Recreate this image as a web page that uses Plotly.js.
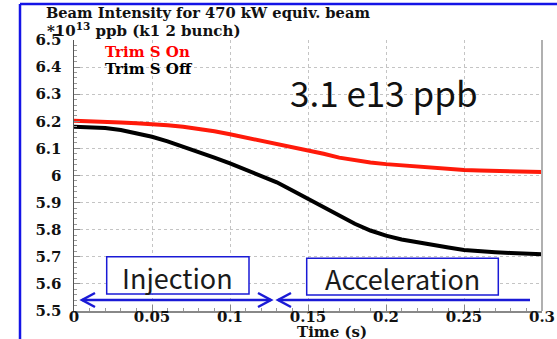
<!DOCTYPE html>
<html>
<head>
<meta charset="utf-8">
<script src="https://cdn.plot.ly/plotly-3.0.1.min.js"></script>
<style>html,body{margin:0;padding:0;background:#fff;}#chart{width:557px;height:339px;}</style>
</head>
<body>
<div id="chart"></div>
<script>
// ---- data ----
const timeS = [0,0.01,0.02,0.03,0.04,0.05,0.06,0.07,0.08,0.09,0.10,0.11,0.12,0.13,0.14,0.15,0.16,0.17,0.18,0.19,0.20,0.21,0.22,0.23,0.24,0.25,0.26,0.27,0.28,0.29,0.30];
const trimOn  = [6.202,6.201,6.199,6.196,6.193,6.190,6.185,6.180,6.172,6.163,6.152,6.140,6.130,6.118,6.107,6.094,6.080,6.066,6.056,6.048,6.042,6.037,6.033,6.029,6.024,6.020,6.018,6.016,6.015,6.014,6.013];
const trimOff = [6.180,6.179,6.175,6.168,6.157,6.143,6.126,6.107,6.087,6.066,6.045,6.022,5.999,5.975,5.945,5.915,5.885,5.853,5.822,5.797,5.778,5.764,5.753,5.744,5.734,5.725,5.720,5.717,5.714,5.711,5.709];
const seriesNames = ["Trim S On","Trim S Off"];
const xTicks = [0,0.05,0.1,0.15,0.2,0.25,0.3];
const yTicks = [5.5,5.6,5.7,5.8,5.9,6,6.1,6.2,6.3,6.4,6.5];

// ---- layout helpers (pixel -> paper) ----
const L=74, R=542, T=40, B=311;
const X = p => (p-L)/(R-L);
const Y = p => (B-p)/(B-T);
const serif = "DejaVu Serif";
const blue = "#1a1ad6";

const traces = [
  {x: timeS, y: trimOn, name: seriesNames[0], mode: "lines", line: {color: "#ff1a0a", width: 4}},
  {x: timeS, y: trimOff, name: seriesNames[1], mode: "lines", line: {color: "#000000", width: 4}}
];

function chevron(xTip, dir){
  const xb = xTip + dir*13;
  return `M ${X(xb)},${Y(293)} L ${X(xTip)},${Y(300)} L ${X(xb)},${Y(307)}`;
}

const layout = {
  width: 557, height: 339,
  margin: {l: L, r: 557-R, t: T, b: 339-B, pad: 0},
  paper_bgcolor: "#fff", plot_bgcolor: "#fff",
  showlegend: false,
  font: {family: serif, color: "#111"},
  xaxis: {
    range: [0, 0.3], tickvals: xTicks, ticktext: xTicks.map(String),
    showgrid: true, gridcolor: "#c4c4c4", griddash: "dot", gridwidth: 1,
    zeroline: false, showline: true, linecolor: "#888", linewidth: 1.5,
    ticks: "inside", ticklen: 6, tickcolor: "#888",
    minor: {dtick: 0.01, ticks: "inside", ticklen: 3, tickcolor: "#999", showgrid: false},
    tickfont: {family: serif, size: 15, color: "#111", weight: "bold"},
    ticklabelstandoff: -9
  },
  yaxis: {
    range: [5.5, 6.5], tickvals: yTicks, ticktext: yTicks.map(String),
    showgrid: true, gridcolor: "#c4c4c4", griddash: "dot", gridwidth: 1,
    zeroline: false, showline: true, linecolor: "#555", linewidth: 1.5,
    ticks: "inside", ticklen: 6, tickcolor: "#888",
    minor: {dtick: 0.02, ticks: "inside", ticklen: 3, tickcolor: "#999", showgrid: false},
    tickfont: {family: serif, size: 15, color: "#111", weight: "bold"},
    ticklabelstandoff: 8
  },
  shapes: [
    {type: "line", xref: "paper", yref: "paper", x0: 1, x1: 1, y0: 0, y1: 1, line: {color: "#b0b0b0", width: 2}},
    {type: "line", xref: "paper", yref: "paper", x0: X(20), x1: X(20), y0: Y(4), y1: Y(345), line: {color: "#1414e6", width: 2.5}},
    {type: "line", xref: "paper", yref: "paper", x0: X(20), x1: X(560), y0: Y(4), y1: Y(4), line: {color: "#1414e6", width: 2.5}},
    {type: "rect", xref: "paper", yref: "paper", x0: X(106.7), x1: X(249), y0: Y(294), y1: Y(256.7), line: {color: blue, width: 1.5}, fillcolor: "#fff", layer: "above"},
    {type: "rect", xref: "paper", yref: "paper", x0: X(306.7), x1: X(498.3), y0: Y(295), y1: Y(258.3), line: {color: blue, width: 1.5}, fillcolor: "#fff", layer: "above"},
    {type: "line", xref: "paper", yref: "paper", x0: X(82), x1: X(271), y0: Y(300), y1: Y(300), line: {color: blue, width: 2.5}},
    {type: "path", xref: "paper", yref: "paper", path: chevron(82, 1), line: {color: blue, width: 2.5}},
    {type: "path", xref: "paper", yref: "paper", path: chevron(271, -1), line: {color: blue, width: 2.5}},
    {type: "line", xref: "paper", yref: "paper", x0: X(278), x1: X(530), y0: Y(300), y1: Y(300), line: {color: blue, width: 2.5}},
    {type: "path", xref: "paper", yref: "paper", path: chevron(278, 1), line: {color: blue, width: 2.5}}
  ],
  annotations: [
    {xref: "paper", yref: "paper", x: X(208), y: Y(13), xanchor: "center", yanchor: "middle", showarrow: false,
     text: "Beam Intensity for 470 kW equiv. beam", font: {family: serif, size: 15, color: "#111", weight: "bold"}},
    {xref: "paper", yref: "paper", x: X(45), y: Y(30), xanchor: "left", yanchor: "middle", showarrow: false,
     text: "*10<sup>13</sup> ppb (k1 2 bunch)", font: {family: serif, size: 15, color: "#111", weight: "bold"}},
    {xref: "paper", yref: "paper", x: X(103), y: Y(52), xanchor: "left", yanchor: "middle", showarrow: false,
     text: seriesNames[0], font: {family: serif, size: 15, color: "#ff0000", weight: "bold"}},
    {xref: "paper", yref: "paper", x: X(103), y: Y(69), xanchor: "left", yanchor: "middle", showarrow: false,
     text: seriesNames[1], font: {family: serif, size: 15, color: "#000", weight: "bold"}},
    {xref: "paper", yref: "paper", x: X(384), y: Y(92), xanchor: "center", yanchor: "middle", showarrow: false,
     text: "3.1 e13 ppb", font: {family: "Noto Sans CJK JP", size: 35, color: "#111"}},
    {xref: "paper", yref: "paper", x: X(177), y: Y(277), xanchor: "center", yanchor: "middle", showarrow: false,
     text: "Injection", font: {family: "Noto Sans CJK JP", size: 27, color: "#1a1a1a"}},
    {xref: "paper", yref: "paper", x: X(402), y: Y(278), xanchor: "center", yanchor: "middle", showarrow: false,
     text: "Acceleration", font: {family: "Noto Sans CJK JP", size: 27, color: "#1a1a1a"}},
    {xref: "paper", yref: "paper", x: X(331.5), y: Y(332), xanchor: "center", yanchor: "middle", showarrow: false,
     text: "Time (s)", font: {family: serif, size: 15, color: "#111", weight: "bold"}}
  ]
};

Plotly.newPlot("chart", traces, layout, {staticPlot: true, displayModeBar: false}).then(gd => {
  // the reference title uses a wider serif face: stretch line 1 to its measured width
  const t = gd.querySelectorAll(".annotation-text")[0];
  if (t) { t.setAttribute("textLength", "324"); t.setAttribute("lengthAdjust", "spacingAndGlyphs"); }
});
</script>
</body>
</html>
